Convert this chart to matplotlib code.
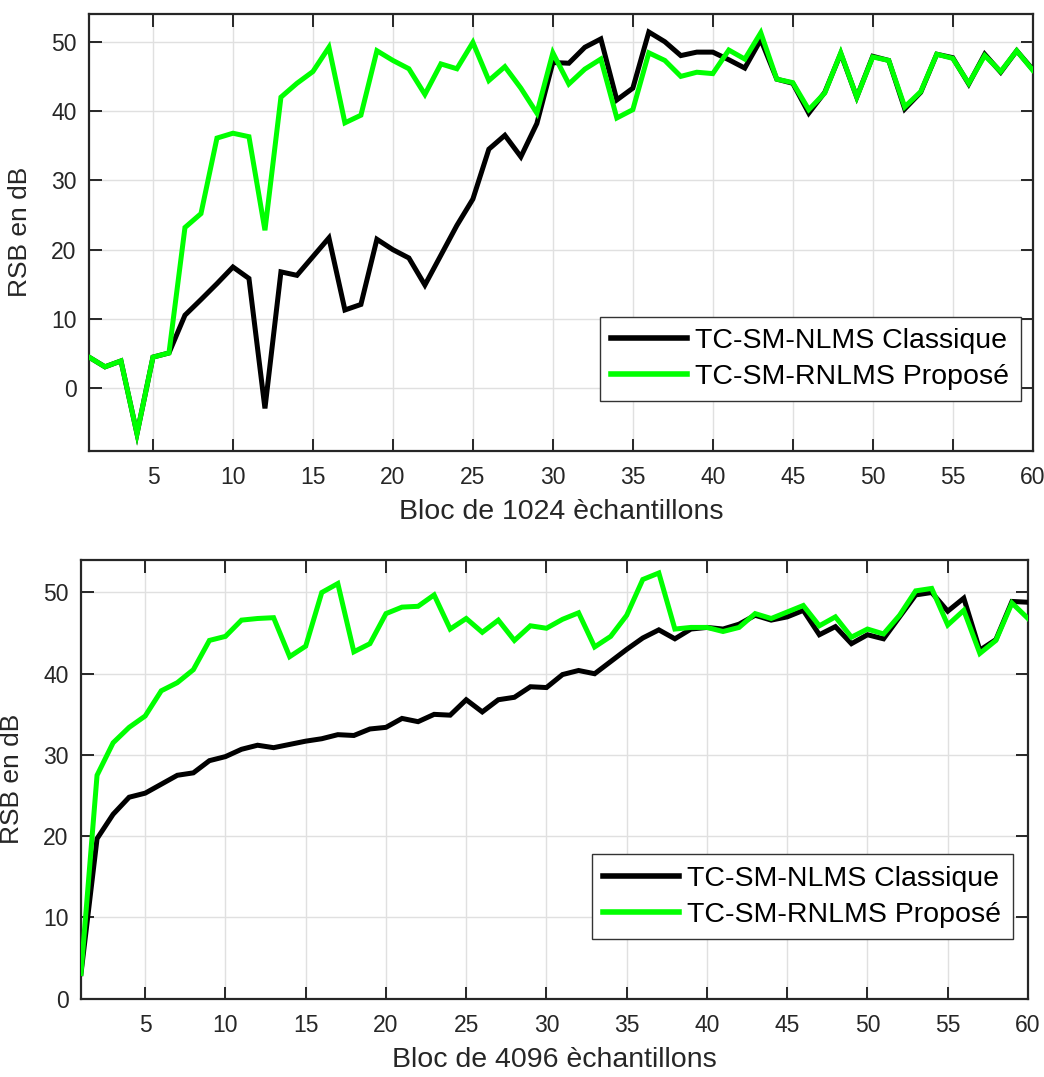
import matplotlib
matplotlib.use("Agg")
import matplotlib.pyplot as plt
import numpy as np

# Block index (1..60)
blocks = np.arange(1, 61)

# SNR (dB) per block, 1024-sample blocks
nlms_1024 = [4.5, 3.1, 3.95, -6.55, 4.5, 5.1, 10.55, 12.8, 15.1, 17.5,
             15.85, -2.9, 16.8, 16.3, 19.0, 21.7, 11.3, 12.1, 21.5, 20.0,
             18.8, 14.9, 19.2, 23.5, 27.3, 34.5, 36.5, 33.4, 38.2, 47.0,
             46.9, 49.2, 50.4, 41.6, 43.3, 51.4, 50.0, 48.0, 48.5, 48.5,
             47.4, 46.2, 50.3, 44.6, 44.0, 39.7, 42.7, 48.3, 42.0, 47.9,
             47.3, 40.3, 42.7, 48.2, 47.7, 43.9, 48.2, 45.6, 48.7, 46.0]
rnlms_1024 = [4.5, 3.1, 3.95, -6.55, 4.5, 5.1, 23.2, 25.2, 36.1, 36.8,
              36.3, 22.8, 42.0, 44.0, 45.7, 49.2, 38.3, 39.4, 48.7, 47.3,
              46.1, 42.4, 46.8, 46.1, 49.9, 44.4, 46.4, 43.3, 39.7, 48.4,
              43.9, 46.05, 47.5, 39.0, 40.2, 48.4, 47.3, 45.0, 45.6, 45.4,
              48.8, 47.5, 51.3, 44.6, 44.1, 40.2, 42.6, 48.4, 42.0, 47.8,
              47.3, 40.6, 42.8, 48.2, 47.6, 44.0, 48.0, 45.7, 48.7, 45.9]

# SNR (dB) per block, 4096-sample blocks
nlms_4096 = [3.1, 19.7, 22.7, 24.8, 25.3, 26.4, 27.5, 27.8, 29.3, 29.8,
             30.7, 31.2, 30.9, 31.3, 31.7, 32.0, 32.5, 32.4, 33.2, 33.4,
             34.5, 34.1, 35.0, 34.9, 36.8, 35.3, 36.8, 37.1, 38.4, 38.3,
             39.9, 40.4, 40.0, 41.5, 43.0, 44.4, 45.4, 44.3, 45.5, 45.7,
             45.5, 46.1, 47.2, 46.6, 47.0, 47.8, 44.8, 45.8, 43.7, 44.8,
             44.3, 47.0, 49.7, 50.0, 47.7, 49.3, 42.9, 44.2, 48.9, 48.8]
rnlms_4096 = [3.1, 27.5, 31.5, 33.4, 34.8, 37.9, 38.9, 40.5, 44.1, 44.6,
              46.6, 46.8, 46.9, 42.1, 43.4, 50.0, 51.1, 42.7, 43.7, 47.4,
              48.2, 48.3, 49.7, 45.5, 46.8, 45.1, 46.6, 44.1, 45.9, 45.6,
              46.7, 47.5, 43.3, 44.6, 47.2, 51.6, 52.4, 45.5, 45.7, 45.7,
              45.2, 45.7, 47.4, 46.8, 47.6, 48.4, 45.9, 47.0, 44.5, 45.5,
              44.9, 47.2, 50.2, 50.5, 46.0, 47.8, 42.5, 44.1, 48.7, 46.8]

series_names = ["TC-SM-NLMS Classique", "TC-SM-RNLMS Proposé"]
xlabels = ["Bloc de 1024 èchantillons", "Bloc de 4096 èchantillons"]
ylabel = "RSB en dB"
xticks = list(range(5, 61, 5))

plt.rcParams['font.family'] = ['Liberation Sans', 'DejaVu Sans']

W, H = 1044, 1077
fig = plt.figure(figsize=(W / 100, H / 100), dpi=100)

def px_axes(left, top, right, bottom):
    return fig.add_axes([left / W, 1 - bottom / H, (right - left) / W, (bottom - top) / H])

ax1 = px_axes(89, 14, 1032.7, 450.7)
ax2 = px_axes(81, 560, 1028, 998.7)

edge = '#262626'
configs = [
    (ax1, nlms_1024, rnlms_1024, xlabels[0], (-9, 54), range(0, 51, 10), (0.5415, 0.307)),
    (ax2, nlms_4096, rnlms_4096, xlabels[1], (0, 54), range(0, 51, 10), (0.5396, 0.329)),
]

for ax, black_vals, green_vals, xl, ylim, yt, leg_anchor in configs:
    ax.plot(blocks, black_vals, color='black', lw=3.6, label=series_names[0],
            solid_joinstyle='miter', zorder=3)
    ax.plot(blocks, green_vals, color='#00ff00', lw=3.6, label=series_names[1],
            solid_joinstyle='miter', zorder=4)
    ax.set_xlim(1, 60)
    ax.set_ylim(*ylim)
    ax.set_xticks(xticks)
    ax.set_yticks(list(yt))
    ax.grid(True, color='#e0e0e0', lw=1.0)
    ax.set_axisbelow(True)
    for sp in ax.spines.values():
        sp.set_color(edge)
        sp.set_linewidth(1.6)
    ax.tick_params(direction='in', length=9, width=1.4, color=edge,
                   top=True, right=True, labelsize=16.5, labelcolor=edge)
    ax.tick_params(axis='x', pad=11)
    ax.tick_params(axis='y', pad=9)
    ax.set_xlabel(xl, fontsize=20.5, color=edge, labelpad=7)
    ax.set_ylabel(ylabel, fontsize=19, color=edge, labelpad=14)
    leg = ax.legend(loc='upper left', bbox_to_anchor=leg_anchor, fontsize=20.5,
                    frameon=True, fancybox=False, framealpha=1.0,
                    edgecolor='#333333', handlelength=2.65, handletextpad=0.3,
                    borderpad=0.4, labelspacing=0.35, borderaxespad=0.0)
    leg.get_frame().set_linewidth(1.0)
    for line in leg.get_lines():
        line.set_linewidth(4.0)

fig.savefig("out.png", dpi=100)
